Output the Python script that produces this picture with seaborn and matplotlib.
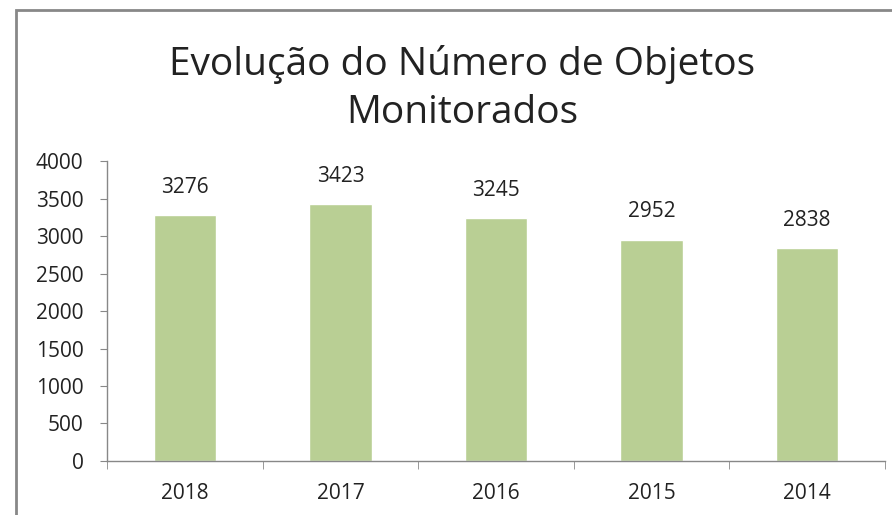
import seaborn as sns
import matplotlib.pyplot as plt
from matplotlib.patches import Rectangle

anos = ['2018', '2017', '2016', '2015', '2014']
objetos = [3276, 3423, 3245, 2952, 2838]

sns.set_style('white')
plt.rcParams['font.family'] = ['Open Sans', 'DejaVu Sans']

fig = plt.figure(figsize=(8.92, 5.15), dpi=100)
ax = fig.add_axes([0.12, 0.105, 0.872, 0.582])

sns.barplot(x=anos, y=objetos, color='#b9cf94', saturation=1, width=0.4, ax=ax)

for i, v in enumerate(objetos):
    ax.text(i, v + 230, str(v), ha='center', va='bottom', fontsize=15, color='#222222')

ax.set_ylim(0, 4000)
ax.set_xlim(-0.5, 4.5)
ax.set_yticks(range(0, 4001, 500))
ax.set_xticks([x + 0.5 for x in range(-1, 5)], minor=True)
ax.tick_params(axis='y', labelsize=15, length=5, color='#888888', direction='out', left=True,
               labelcolor='#222222', pad=12)
ax.tick_params(axis='x', which='major', labelsize=15, length=0, labelcolor='#222222', pad=16)
ax.tick_params(axis='x', which='minor', length=6, color='#888888', direction='out', bottom=True)
sns.despine(ax=ax)
for s in ['left', 'bottom']:
    ax.spines[s].set_color('#888888')
    ax.spines[s].set_linewidth(1)

fig.text(0.518, 0.743, 'Evolução do Número de Objetos\nMonitorados', ha='center', va='bottom',
         fontsize=28, color='#222222', linespacing=1.35)

# moldura cinza do gráfico
fig.add_artist(Rectangle((16 / 892, -0.05), 1.0, 1 - 10 / 515 + 0.05, transform=fig.transFigure,
                         fill=False, edgecolor='#888888', linewidth=2))

fig.savefig('out.png', dpi=100)
